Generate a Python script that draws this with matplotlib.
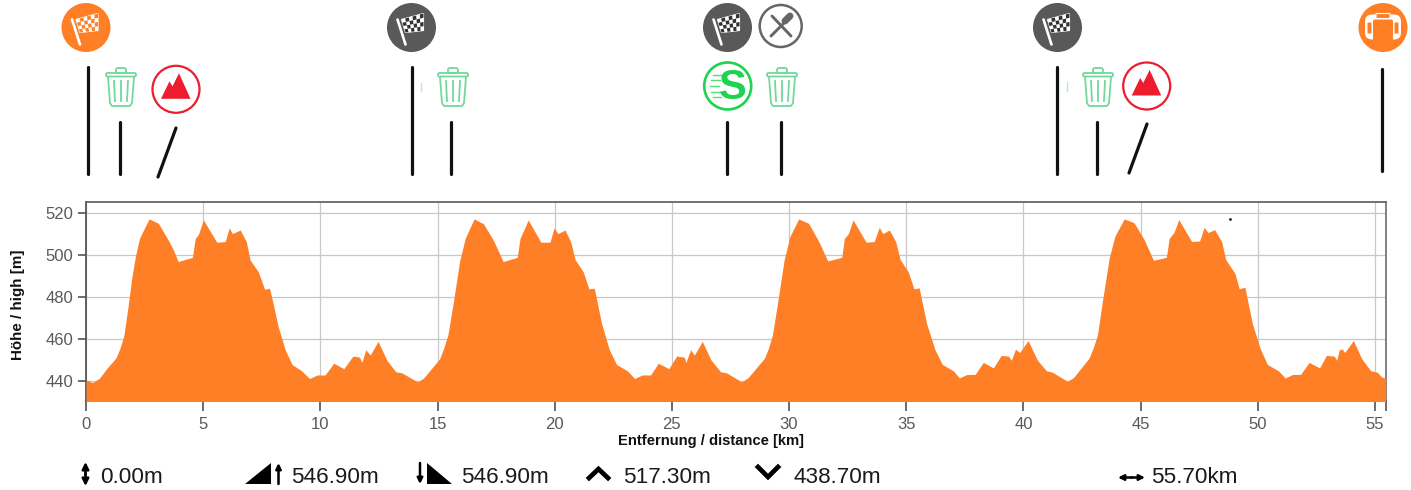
"""
Elevation profile of a four-lap course with pictograms above the chart.
"""

import matplotlib
matplotlib.use("Agg")
import matplotlib.pyplot as plt
from matplotlib.patches import Circle, FancyBboxPatch, Polygon

# ─── Data ─────────────────────────────────────────────────────────────────────
lap1_km = [0, 0.28, 0.57, 0.88, 1.27, 1.45, 1.62, 1.8, 1.95, 2.1, 2.28, 2.69, 3.09, 3.52,
           3.73, 3.93, 4.54, 4.66, 4.8, 5.01, 5.58, 5.94, 6.11, 6.25, 6.58, 6.84, 7.0, 7.36,
           7.62, 7.83, 8.0, 8.2, 8.5, 8.79, 9.2, 9.54, 9.86, 10.2, 10.57, 11.0, 11.39, 11.67,
           11.77, 11.94, 12.13, 12.46, 12.84, 13.22, 13.48, 14.15]
lap1_m = [440.6, 439.4, 441.4, 446, 451, 455.7, 462, 476, 489, 499, 508, 517.3, 515.2, 507,
          502.5, 497, 499, 508, 510, 516.8, 506.2, 506.5, 513, 510.3, 512, 506.5, 497.8, 492,
          483.8, 484.3, 476.3, 466, 455, 448, 445, 441.3, 443, 443, 448.6, 446, 452, 451.5,
          449, 455, 452.5, 459, 450, 444.5, 444, 439.7]

lap2_km = [14.4, 15.09, 15.26, 15.44, 15.68, 15.94, 16.18, 16.56, 16.96, 17.39, 17.8, 18.4,
           18.52, 18.87, 19.41, 19.8, 19.97, 20.14, 20.44, 20.68, 20.87, 21.22, 21.46, 21.69,
           22.0, 22.33, 22.64, 23.1, 23.41, 23.73, 24.09, 24.42, 24.87, 25.2, 25.53, 25.6,
           25.8, 25.96, 26.3, 26.66, 27.08, 27.34, 27.98]
lap2_m = [441.5, 450.7, 455.7, 462, 478, 497, 508, 517.3, 515, 507, 497, 499, 508, 516.8,
          506.2, 506.2, 513, 510.3, 512, 506.5, 498, 492, 484, 484.3, 467.5, 455, 448, 445,
          441.3, 443, 443, 448.6, 446, 452, 451.5, 449, 455, 452.5, 459, 450.3, 444.5, 444,
          439.7]

lap3_km = [28.26, 28.95, 29.12, 29.29, 29.52, 29.79, 30.04, 30.41, 30.83, 31.25, 31.65, 32.25,
           32.36, 32.53, 32.73, 33.29, 33.63, 33.85, 34.0, 34.28, 34.55, 34.74, 35.09, 35.33,
           35.55, 35.87, 36.23, 36.54, 37.01, 37.27, 37.58, 37.94, 38.29, 38.72, 39.05, 39.36,
           39.49, 39.66, 39.84, 40.2, 40.6, 40.98, 41.24, 41.88]
lap3_m = [441.8, 451, 455.7, 462, 478, 497.8, 509, 517.3, 515.2, 507, 497.3, 499, 508, 510.3,
          516.8, 506.2, 506.5, 513.3, 510.3, 512, 506.5, 498, 492, 484, 484.5, 467.5, 455, 448,
          445, 441.6, 443.2, 443.3, 449, 446.4, 452.3, 452, 450, 455.3, 453.7, 459.4, 450,
          445, 444.3, 440]

lap4_km = [42.14, 42.8, 42.97, 43.16, 43.37, 43.66, 43.9, 44.3, 44.72, 45.15, 45.55, 46.1,
           46.22, 46.43, 46.63, 47.18, 47.52, 47.71, 47.88, 48.16, 48.46, 48.63, 49.03, 49.21,
           49.45, 49.77, 50.1, 50.41, 50.88, 51.17, 51.48, 51.83, 52.19, 52.64, 52.93, 53.26,
           53.37, 53.48, 53.6, 53.71, 54.08, 54.44, 54.82, 55.1, 55.29, 55.46]
lap4_m = [441.8, 451, 455.7, 462, 478, 498.6, 509, 517.3, 515.5, 507.5, 497.6, 499, 508, 511,
          517, 506.5, 506.8, 513.3, 510.8, 512.2, 506.5, 498, 491.3, 484, 484.8, 467.5, 455.7,
          448, 445, 441.6, 443.2, 443.3, 449, 446.4, 452.3, 452, 450, 455, 455.4, 453.7, 459.4,
          450.7, 445, 444.3, 442, 441.5]

distance_km = lap1_km + lap2_km + lap3_km + lap4_km
elevation_m = lap1_m + lap2_m + lap3_m + lap4_m

x_ticks = [0, 5, 10, 15, 20, 25, 30, 35, 40, 45, 50, 55]
y_ticks = [440, 460, 480, 500, 520]
x_end = 55.46

stat_labels = ["0.00m", "546.90m", "546.90m", "517.30m", "438.70m", "55.70km"]
stat_x = [100, 291, 461, 623, 793, 1151]

ORANGE = "#ff7f27"
DARK = "#595959"
GREEN = "#72d89c"
LIME = "#1dd34f"
RED = "#ed1c2e"
W, H = 1411, 490

plt.rcParams["font.family"] = ["Liberation Sans", "DejaVu Sans"]

fig = plt.figure(figsize=(W / 100, H / 100), dpi=100, facecolor="white")

# ── Chart ─────────────────────────────────────────────────────────────────────
left, right, top, bottom = 86, 1385.7, 202.3, 400.7
ax = fig.add_axes([left / W, 1 - bottom / H, (right - left) / W, (bottom - top) / H])
ax.fill_between(distance_km, elevation_m, 430, color=ORANGE, lw=0, zorder=3)
ax.set_xlim(0, x_end)
ax.set_ylim(430.76, 525.2)
ax.set_xticks(x_ticks + [x_end])
ax.set_xticklabels([str(t) for t in x_ticks] + [""])
ax.set_yticks(y_ticks)
ax.grid(True, color="#c8c8c8", lw=0.9, zorder=0)
ax.set_axisbelow(True)
ax.tick_params(axis="x", length=7.5, width=1.1, color="#444444", pad=4, labelcolor="#595959", labelsize=12)
ax.tick_params(axis="y", length=6, width=1.1, color="#444444", pad=3, labelcolor="#595959", labelsize=12)
for name, col in [("left", "#555555"), ("bottom", "#555555"), ("top", "#666666"), ("right", "#777777")]:
    ax.spines[name].set_color(col)
    ax.spines[name].set_linewidth(1.3)

# ── Overlay in pixel coordinates for everything around the chart ──────────────
ov = fig.add_axes([0, 0, 1, 1], facecolor="none")
ov.set_xlim(0, W)
ov.set_ylim(H, 0)
ov.axis("off")

ov.text(18, 305, "Höhe / high [m]", rotation=90, ha="center", va="center",
        fontsize=10.9, fontweight="bold", color="#111111")
ov.text(711, 441, "Entfernung / distance [km]", ha="center", va="center",
        fontsize=10.6, fontweight="bold", color="#111111")


def flag_badge(cx, cy, bg, dark):
    ov.add_patch(Circle((cx, cy), 24.5, fc=bg, ec="none"))
    ov.plot([cx - 14, cx - 6], [cy - 8, cy + 17], color="white", lw=1.9, solid_capstyle="round")
    # checker cells on a skewed flag
    c1, c2, c3, c4 = (-10, -8), (12, -14), (12, 3), (-6, 5)
    nx, ny = 6, 4

    def pt(u, v):
        tx = c1[0] + (c2[0] - c1[0]) * u
        ty = c1[1] + (c2[1] - c1[1]) * u
        bx = c4[0] + (c3[0] - c4[0]) * u
        by = c4[1] + (c3[1] - c4[1]) * u
        return cx + tx + (bx - tx) * v, cy + ty + (by - ty) * v

    ov.add_patch(Polygon([pt(0, 0), pt(1, 0), pt(1, 1), pt(0, 1)], fc="white", ec="white", lw=0.8))
    for i in range(nx):
        for j in range(ny):
            if (i + j) % 2:
                ov.add_patch(Polygon([pt(i / nx, j / ny), pt((i + 1) / nx, j / ny),
                                      pt((i + 1) / nx, (j + 1) / ny), pt(i / nx, (j + 1) / ny)],
                                     fc=dark, ec="none"))


def trash(cx, top_y):
    lw = 1.3
    ov.add_patch(FancyBboxPatch((cx - 15, top_y + 5), 30, 3.5, boxstyle="round,pad=0,rounding_size=1.5",
                                fc="none", ec=GREEN, lw=lw))
    ov.add_patch(FancyBboxPatch((cx - 5, top_y), 10, 5, boxstyle="round,pad=0,rounding_size=2",
                                fc="none", ec=GREEN, lw=lw))
    ov.plot([cx - 13, cx - 11, cx - 9, cx + 9, cx + 11, cx + 13],
            [top_y + 9, top_y + 35, top_y + 38, top_y + 38, top_y + 35, top_y + 9],
            color=GREEN, lw=lw, solid_joinstyle="round")
    for dx0, dx1 in [(-7, -6), (0, 0), (7, 6)]:
        ov.plot([cx + dx0, cx + dx1], [top_y + 13, top_y + 33], color=GREEN, lw=lw)


def mountain(cx, cy):
    ov.add_patch(Circle((cx, cy), 23.5, fc="white", ec=RED, lw=1.6))
    pts = [(-15, 9.5), (-6.5, -8), (-3.5, -3), (3, -16), (14.5, 9.5)]
    ov.add_patch(Polygon([(cx + a, cy + b) for a, b in pts], fc=RED, ec="none"))


# top row of badges
flag_badge(86, 27.5, ORANGE, ORANGE)
flag_badge(411.5, 27.5, DARK, "#333333")
flag_badge(727.5, 27.5, DARK, "#333333")
flag_badge(1057.5, 27.5, DARK, "#333333")

# cutlery badge
ov.add_patch(Circle((780.7, 26), 21, fc="white", ec="#666666", lw=1.8))
ov.plot([772, 791], [16, 36], color="#666666", lw=2.1, solid_capstyle="round")
ov.plot([771, 786], [36, 21], color="#666666", lw=2.1, solid_capstyle="round")
ov.plot([785, 790], [21, 16], color="#666666", lw=5, solid_capstyle="round")

# bus badge
cx, cy = 1383, 27.5
ov.add_patch(Circle((cx, cy), 24.5, fc=ORANGE, ec="none"))
ov.add_patch(FancyBboxPatch((cx - 18, cy - 13), 36, 25, boxstyle="round,pad=0,rounding_size=7",
                            fc="white", ec="none"))
ov.add_patch(FancyBboxPatch((cx - 10, cy - 8), 20, 26, boxstyle="round,pad=0,rounding_size=2",
                            fc=ORANGE, ec="none"))
ov.add_patch(FancyBboxPatch((cx - 15.5, cy - 5), 4, 11, boxstyle="round,pad=0,rounding_size=0.5",
                            fc=ORANGE, ec="none"))
ov.add_patch(FancyBboxPatch((cx + 11.5, cy - 5), 4, 11, boxstyle="round,pad=0,rounding_size=0.5",
                            fc=ORANGE, ec="none"))
ov.add_patch(FancyBboxPatch((cx - 7, cy - 14), 14, 5, boxstyle="round,pad=0,rounding_size=0.5",
                            fc=ORANGE, ec="white", lw=0.8))

# second row
trash(121, 68)
trash(453, 68)
trash(782, 68)
trash(1098, 68)
mountain(176, 89.3)
mountain(1146.7, 86)

ov.add_patch(Circle((727.7, 86), 23.5, fc="white", ec=LIME, lw=1.9))
ov.text(733, 88, "S", ha="center", va="center", fontsize=30, fontweight="bold", color=LIME)
for sy, sx0, sx1 in [(75, 713, 721), (80, 711, 720), (86, 710, 719), (92, 711, 720), (97, 713, 721)]:
    ov.plot([sx0, sx1], [sy, sy], color=LIME, lw=1, alpha=0.75)

ov.plot([421, 421], [83, 91], color=GREEN, lw=1, alpha=0.5)
ov.plot([1066.5, 1066.5], [82, 91], color=GREEN, lw=1, alpha=0.5)
ov.plot([1230], [219], marker="o", ms=1, color="#222222")

# black leader lines
leaders = [((88, 67), (88, 174)), ((119.5, 122), (119.5, 174)), ((176, 128), (158, 177)),
           ((412, 67), (412, 174)), ((451, 122), (451, 174)),
           ((727, 122), (727, 174)), ((781, 122), (781, 174)),
           ((1057, 67), (1057, 174)), ((1096.5, 122), (1096.5, 174)), ((1147, 124), (1129, 173)),
           ((1382, 69), (1382, 171))]
for (x0, y0), (x1, y1) in leaders:
    ov.plot([x0, x1], [y0, y1], color="#111111", lw=2.3, solid_capstyle="round")

# ── Stats row ─────────────────────────────────────────────────────────────────
for label, x in zip(stat_labels, stat_x):
    ov.text(x, 477.5, label, ha="left", va="center", fontsize=16.2, color="#1a1a1a")


def arrow(x0, y0, x1, y1, size=10):
    ov.annotate("", xy=(x1, y1), xytext=(x0, y0),
                arrowprops=dict(arrowstyle="-|>", color="black", lw=1.8, mutation_scale=size,
                                shrinkA=0, shrinkB=0))


# vertical double arrow
arrow(85.5, 475, 85.5, 462)
arrow(85.5, 473, 85.5, 486)
# ascent: wedge + up arrow
ov.add_patch(Polygon([(245, 484), (271, 463), (271, 484)], fc="black", ec="none"))
arrow(278.5, 484, 278.5, 463, 8)
# descent: down arrow + wedge
arrow(420, 463, 420, 484, 8)
ov.add_patch(Polygon([(427, 463), (427, 484), (452, 484)], fc="black", ec="none"))
# max / min chevrons
ov.plot([589, 598.5, 608], [478, 469, 478], color="black", lw=3.4, solid_joinstyle="miter")
ov.plot([758, 768, 778], [467, 477, 467], color="black", lw=3.4, solid_joinstyle="miter")
# horizontal double arrow
arrow(1131, 477.5, 1145, 477.5, 8)
arrow(1132, 477.5, 1118, 477.5, 8)

fig.savefig("out.png", dpi=100, facecolor="white")
